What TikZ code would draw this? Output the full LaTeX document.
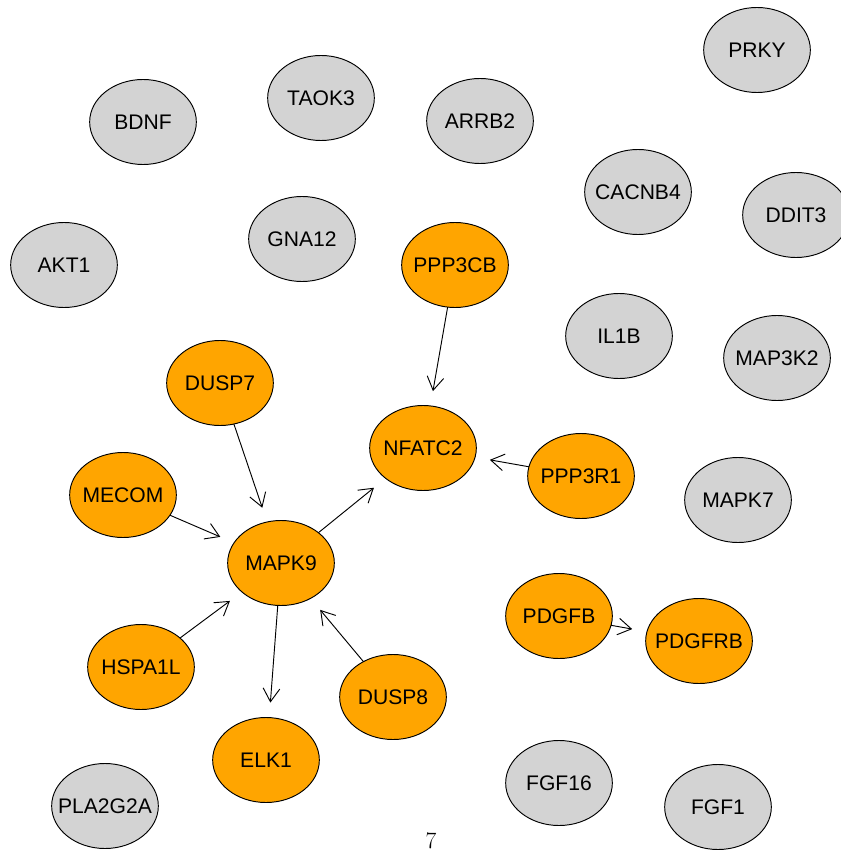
\documentclass[tikz,border=0pt]{standalone}
\usepackage{fontspec}
\usepackage{xcolor}
\usetikzlibrary{shapes.geometric,arrows.meta}
\newfontfamily\genefont{Liberation Sans}
\definecolor{hitColor}{RGB}{255, 165, 0}
\definecolor{otherColor}{RGB}{211, 211, 211}

\begin{document}
\begin{tikzpicture}[x=0.03cm, y=-0.03cm,
    gene/.style={ellipse, draw, line width=0.8pt, minimum width=3.2cm, minimum height=2.55cm,
        inner xsep=-1.5cm, inner ysep=0pt, outer sep=0pt, font=\genefont\fontsize{18pt}{20pt}\selectfont},
    hit/.style={gene, fill=hitColor},
    other/.style={gene, fill=otherColor},
    link/.style={-{Straight Barb[length=0.4cm, width=0.5cm]}, line width=0.8pt, shorten >=0.45cm}]
    \useasboundingbox (0,0) rectangle (840,850);
    % Unconnected genes
    \node[other] (prky) at (757,50) {PRKY};
    \node[other] (bdnf) at (143,122) {BDNF};
    \node[other] (taok3) at (321,98) {TAOK3};
    \node[other] (arrb2) at (480,121) {ARRB2};
    \node[other] (cacnb4) at (638,192) {CACNB4};
    \node[other] (ddit3) at (796,215) {DDIT3};
    \node[other] (akt1) at (64,265) {AKT1};
    \node[other] (gna12) at (302,239) {GNA12};
    \node[other] (il1b) at (619,336) {IL1B};
    \node[other] (map3k2) at (777,358) {MAP3K2};
    \node[other] (mapk7) at (738,500) {MAPK7};
    \node[other] (pla2g2a) at (105,806) {PLA2G2A};
    \node[other] (fgf16) at (559,783) {FGF16};
    \node[other] (fgf1) at (718,807) {FGF1};
    % Connected genes
    \node[hit] (ppp3cb) at (455,265) {PPP3CB};
    \node[hit] (dusp7) at (220,383) {DUSP7};
    \node[hit] (nfatc2) at (423,448) {NFATC2};
    \node[hit] (ppp3r1) at (581,476) {PPP3R1};
    \node[hit] (mecom) at (123,495) {MECOM};
    \node[hit] (mapk9) at (281,563) {MAPK9};
    \node[hit] (pdgfb) at (559,616) {PDGFB};
    \node[hit] (pdgfrb) at (699,641) {PDGFRB};
    \node[hit] (hspa1l) at (141,667) {HSPA1L};
    \node[hit] (dusp8) at (393,697) {DUSP8};
    \node[hit] (elk1) at (266,760) {ELK1};

    \draw[link] (ppp3cb) -- (nfatc2);
    \draw[link] (ppp3r1) -- (nfatc2);
    \draw[link] (mapk9) -- (nfatc2);
    \draw[link] (dusp7) -- (mapk9);
    \draw[link] (mecom) -- (mapk9);
    \draw[link] (hspa1l) -- (mapk9);
    \draw[link] (dusp8) -- (mapk9);
    \draw[link] (mapk9) -- (elk1);
    \draw[link] (pdgfb) -- (pdgfrb);

    \node[font=\fontsize{20pt}{22pt}\selectfont, inner sep=0pt, anchor=base] (page) at (431,848) {7};
\end{tikzpicture}
\end{document}
